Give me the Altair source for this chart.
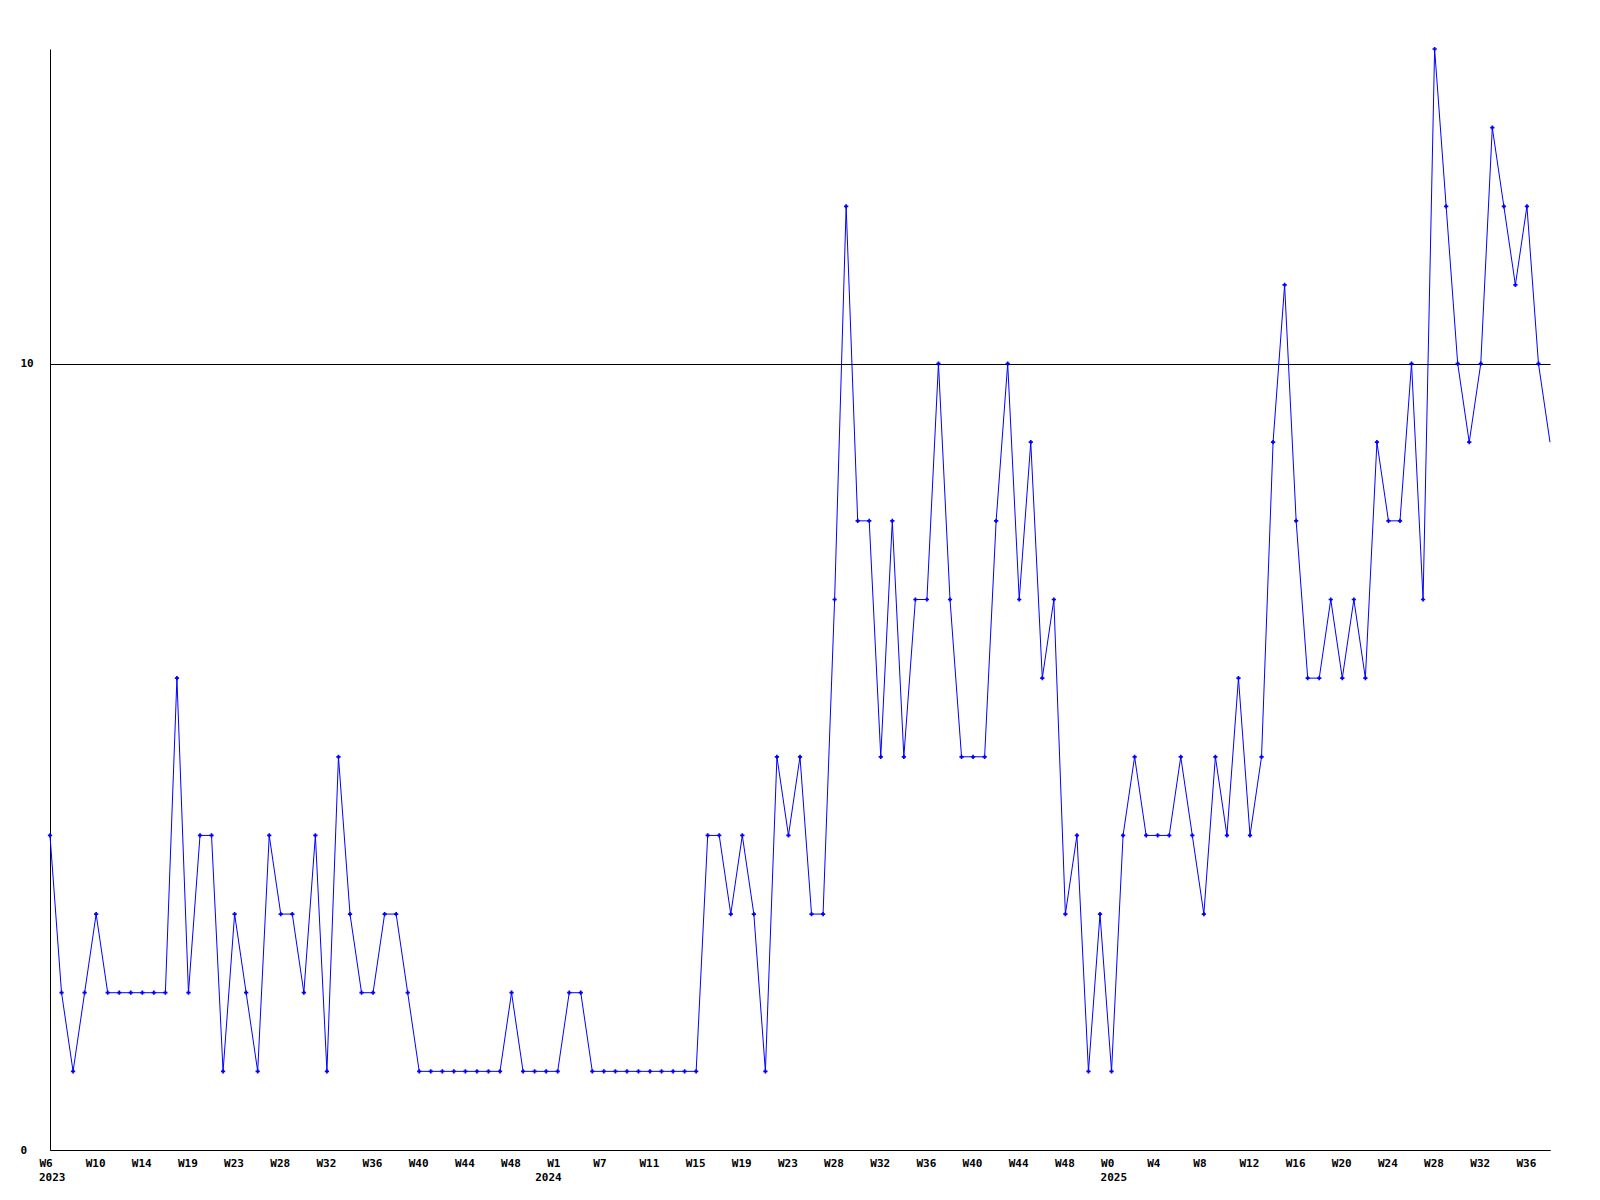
import json
import altair as alt
import pandas as pd

# weekly counts (one value per period)
values = [
    4, 2, 1, 2, 3, 2, 2, 2, 2, 2, 2, 6, 2, 4, 4, 1, 3, 2, 1, 4,
    3, 3, 2, 4, 1, 5, 3, 2, 2, 3, 3, 2, 1, 1, 1,
    1, 1, 1, 1, 1, 2, 1, 1, 1, 1, 2, 2, 1, 1, 1, 1, 1, 1, 1, 1, 1, 1,
    4, 4, 3, 4, 3, 1, 5, 4, 5, 3, 3, 7, 12, 8, 8, 5, 8, 5, 7,
    7, 10, 7, 5, 5, 5, 8, 10, 7, 9, 6, 7, 3, 4, 1, 3, 1, 4, 5,
    4, 4, 4, 5, 4, 3, 5, 4, 6, 4, 5, 9, 11, 8, 6, 6, 7,
    6, 7, 6, 9, 8, 8, 10, 7, 14, 12, 10, 9, 10, 13, 12, 11, 12, 10, 9,
]

# x tick labels (every 4th period)
week_labels = [
    "W6", "W10", "W14", "W19", "W23", "W28", "W32", "W36", "W40", "W44", "W48",
    "W1", "W7", "W11", "W15", "W19", "W23", "W28", "W32", "W36", "W40", "W44", "W48",
    "W0", "W4", "W8", "W12", "W16", "W20", "W24", "W28", "W32", "W36",
]
# year labels and the period index where each year starts
year_labels = ["2023", "2024", "2025"]
year_start = [0, 43, 92]
y_tick_values = [0, 10]

n = len(values)
df = pd.DataFrame({"i": list(range(n)), "v": values})
years_df = pd.DataFrame({"i": year_start, "t": year_labels})
tick_idx = [4 * k for k in range(len(week_labels))]

label_expr = f"{json.dumps(week_labels)}[round(datum.value/4)]"

FONT = "DejaVu Sans Mono"
W, H = 1500, 1101

x_enc = alt.X(
    "i:Q",
    scale=alt.Scale(domain=[0, n - 1], nice=False, zero=False),
    axis=alt.Axis(
        values=tick_idx,
        labelExpr=label_expr,
        title=None,
        grid=False,
        ticks=False,
        tickSize=0,
        domainColor="black",
        domainWidth=1,
        labelAlign="left",
        labelOffset=-11,
        labelBaseline="top",
        labelPadding=7,
        labelFont=FONT,
        labelFontSize=11,
        labelFontWeight="bold",
        labelColor="black",
        labelFlush=False,
        labelOverlap=False,
    ),
)
y_enc = alt.Y(
    "v:Q",
    scale=alt.Scale(domain=[0, 14], nice=False),
    axis=alt.Axis(
        values=y_tick_values,
        format="d",
        title=None,
        grid=True,
        gridColor="black",
        gridOpacity=1,
        gridWidth=1,
        ticks=False,
        tickSize=0,
        domainColor="black",
        domainWidth=1,
        labelAlign="left",
        labelPadding=30,
        labelBaseline="middle",
        labelFont=FONT,
        labelFontSize=11,
        labelFontWeight="bold",
        labelColor="black",
        labelFlush=False,
        labelOverlap=False,
    ),
)

line = alt.Chart(df).mark_line(color="#0000FF", strokeWidth=1).encode(x=x_enc, y=y_enc)
pts = (
    alt.Chart(df)
    .transform_filter(alt.datum.i < n - 1)
    .mark_point(shape="cross", filled=True, color="#0000FF", size=18, opacity=1)
    .encode(x="i:Q", y="v:Q")
)
years = (
    alt.Chart(years_df)
    .mark_text(
        align="left", baseline="top", dx=-11, font=FONT, fontSize=11,
        fontWeight="bold", color="black",
    )
    .encode(x="i:Q", y=alt.value(H + 22), text="t:N")
)

chart = (
    alt.layer(line, pts, years)
    .properties(
        width=W,
        height=H,
        autosize=alt.AutoSizeParams(type="none"),
        padding={"left": 42, "top": 41, "right": 20, "bottom": 40},
        background="white",
    )
    .configure_view(stroke=None)
)

chart.save("out.html", embed_options={"renderer": "svg", "actions": False})
